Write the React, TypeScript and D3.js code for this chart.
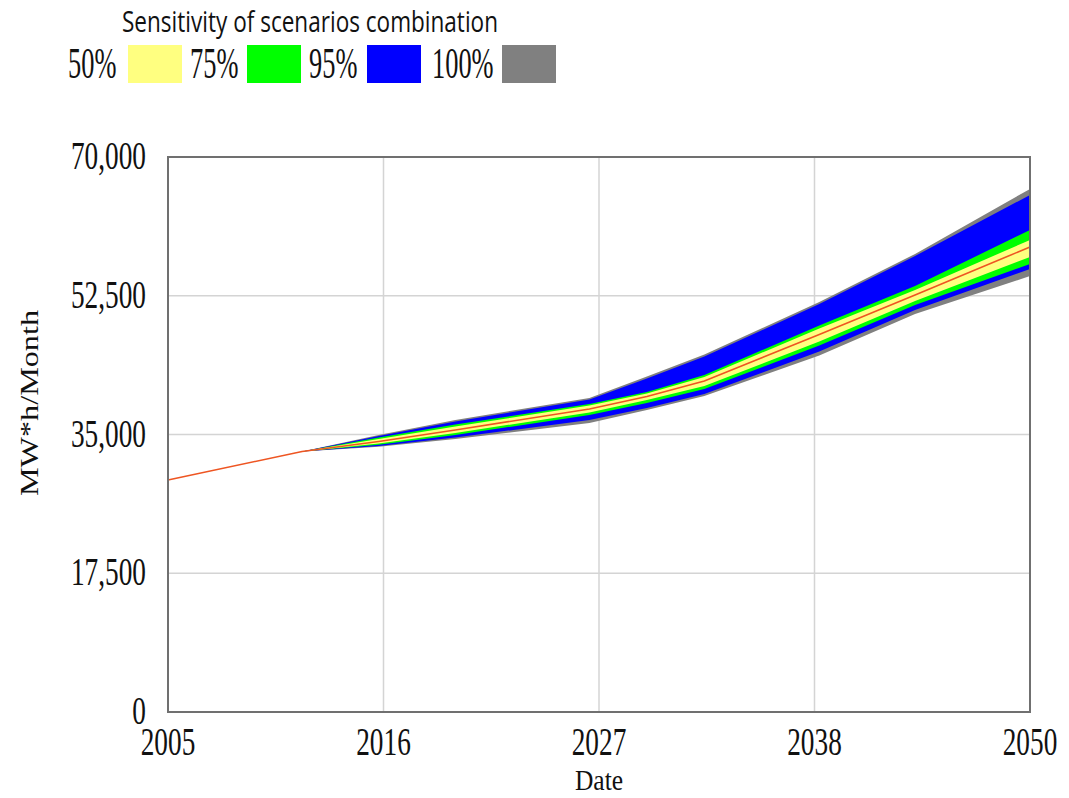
import React from "react";
import * as d3 from "d3";

const years = [2005, 2012, 2016, 2020, 2027, 2030, 2033, 2039, 2044, 2050];
const center = [29260, 32860, 34120, 35570, 38220, 39790, 41750, 47610, 52600, 58650];
const grayTop = [29260, 32860, 34940, 36830, 39600, 42300, 45100, 51700, 57770, 65970];
const blueTop = [29260, 32860, 34810, 36640, 39420, 42050, 44850, 51450, 57520, 65210];
const greenTop = [29260, 32860, 34620, 36260, 38850, 40360, 42510, 48750, 53730, 60800];
const yellowTop = [29260, 32860, 34430, 36010, 38660, 40170, 42250, 48370, 53230, 59530];
const yellowBot = [29260, 32860, 33870, 35190, 37780, 39350, 41120, 46730, 51840, 57390];
const greenBot = [29260, 32860, 33700, 34940, 37460, 38970, 40740, 46230, 51340, 56510];
const blueBot = [29260, 32860, 33550, 34620, 36830, 38340, 40110, 45470, 50700, 55880];
const grayBot = [29260, 32860, 33460, 34430, 36450, 38090, 39860, 44970, 50200, 54990];

const xTickValues = [2005, 2016.25, 2027.5, 2038.75, 2050];
const xTickLabels = ["2005", "2016", "2027", "2038", "2050"];
const yTickValues = [0, 17500, 35000, 52500, 70000];
const yTickLabels = ["0", "17,500", "35,000", "52,500", "70,000"];

const legendLabels = ["50%", "75%", "95%", "100%"];
const legendColors = ["#FFFF80", "#00FF00", "#0000FF", "#808080"];
const legendTitle = "Sensitivity of scenarios combination";

const W = 1069;
const H = 798;
const L = 168, R = 1030, T = 157, B = 712;

const SERIF = "'Liberation Serif', 'Times New Roman', serif";

function CText({ x, y, anchor = "middle", size = 39, sx = 0.7, children, weight = "normal" }: any) {
  return (
    <text
      transform={`translate(${x},${y}) scale(${sx},1)`}
      textAnchor={anchor}
      fontFamily={SERIF}
      fontSize={size}
      fontWeight={weight}
      fill="#111"
    >
      {children}
    </text>
  );
}

export default function App() {
  const x = d3.scaleLinear().domain([2005, 2050]).range([L, R]);
  const y = d3.scaleLinear().domain([0, 70000]).range([B, T]);
  const idx = years.map((_, i) => i);

  const band = (top: number[], bot: number[]) =>
    d3
      .area<number>()
      .x((i) => x(years[i]))
      .y0((i) => y(bot[i]))
      .y1((i) => y(top[i]))
      .curve(d3.curveLinear)(idx) || "";

  const centerLine =
    d3
      .line<number>()
      .x((i) => x(years[i]))
      .y((i) => y(center[i]))
      .curve(d3.curveLinear)(idx) || "";

  const legendX = [68, 190, 309, 432];
  const swatchX = [128, 247, 367, 502];

  return (
    <svg
      width={W}
      height={H}
      style={{ position: "absolute", left: 0, top: 0, background: "#fff" }}
    >
      <rect x={0} y={0} width={W} height={H} fill="#fff" />
      {/* legend */}
      <text
        x={122}
        y={32}
        fontFamily="'Open Sans', 'Noto Sans', sans-serif"
        fontSize={29}
        textLength={376}
        lengthAdjust="spacingAndGlyphs"
        fill="#111"
      >
        {legendTitle}
      </text>
      {legendLabels.map((lab, i) => (
        <g key={lab}>
          <CText x={legendX[i]} y={78} anchor="start" size={44} sx={0.6}>
            {lab}
          </CText>
          <rect x={swatchX[i]} y={45} width={54} height={38} fill={legendColors[i]} />
        </g>
      ))}

      {/* grid */}
      {yTickValues.map((v) => (
        <line key={"gy" + v} x1={L} x2={R} y1={y(v)} y2={y(v)} stroke="#d4d4d4" strokeWidth={1.5} />
      ))}
      {xTickValues.map((v) => (
        <line key={"gx" + v} x1={x(v)} x2={x(v)} y1={T} y2={B} stroke="#d4d4d4" strokeWidth={1.5} />
      ))}

      {/* bands */}
      <path d={band(grayTop, grayBot)} fill="#808080" />
      <path d={band(blueTop, blueBot)} fill="#0000FF" />
      <path d={band(greenTop, greenBot)} fill="#00FF00" />
      <path d={band(yellowTop, yellowBot)} fill="#FFFF80" />
      <path d={centerLine} fill="none" stroke="#EE5522" strokeWidth={1.6} />

      {/* frame */}
      <rect x={L} y={T} width={R - L} height={B - T} fill="none" stroke="#707070" strokeWidth={2} />

      {/* y ticks */}
      {yTickValues.map((v, i) => (
        <CText key={"yl" + v} x={146} y={y(v) + 12} anchor="end">
          {yTickLabels[i]}
        </CText>
      ))}
      {/* x ticks */}
      {xTickValues.map((v, i) => (
        <CText key={"xl" + v} x={x(v)} y={755}>
          {xTickLabels[i]}
        </CText>
      ))}
      <CText x={599} y={790} size={30} sx={0.85}>Date</CText>
      <text
        transform="translate(38,403) rotate(-90)"
        textAnchor="middle"
        fontFamily={SERIF}
        fontSize={25}
        textLength={186}
        lengthAdjust="spacingAndGlyphs"
        fill="#111"
      >
        MW*h/Month
      </text>
    </svg>
  );
}
